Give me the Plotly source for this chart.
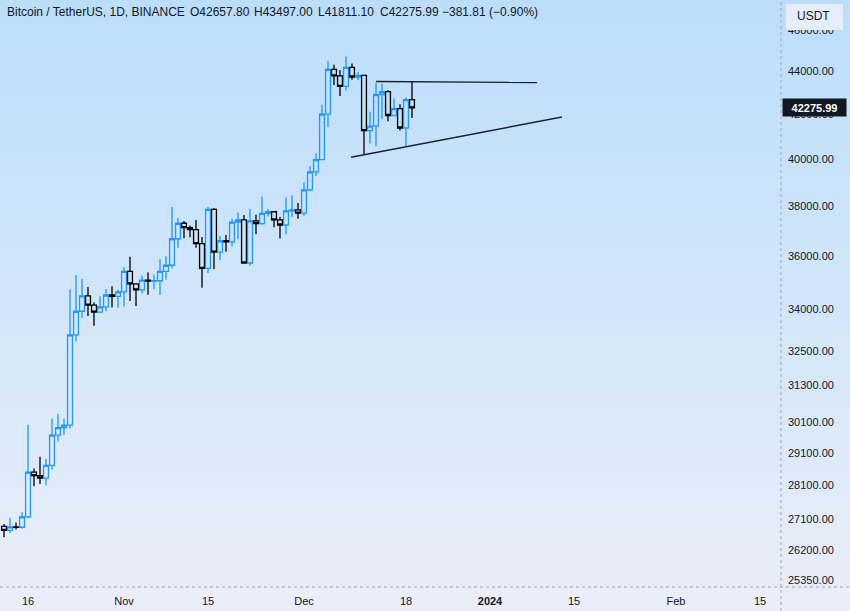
import math, zlib, struct, base64
import pandas as pd
import plotly.graph_objects as go

# ---------------- data ----------------
dates = pd.date_range("2023-10-12", "2023-12-19", freq="D")
opens = [26875, 26759, 26862, 26852, 27154, 28500, 28395, 28320, 28713, 29670, 29909,
         29992, 33070, 33923, 34496, 34152, 33892, 34081, 34526, 34474,
         34639, 35421, 34941, 34720, 35082, 35048, 35062, 35420, 35655, 36693, 37313, 37138,
         37054, 36502, 35537, 37880, 36163, 36613, 36568, 37359, 37448, 35741, 37408, 37294,
         37713, 37780, 37447, 37242, 37818, 37854,
         37723, 38682, 39450, 39972, 41991, 44073, 43762, 43273, 44170, 43713, 43789, 41244,
         41450, 42891, 43023, 41929, 42240, 41365, 42657.80]
highs = [26943, 27130, 26989, 27293, 30000, 28613, 28982, 28916, 30207, 30350, 30200,
         34742, 35280, 35133, 34824, 34245, 34482, 34750, 34854, 34720,
         35582, 35984, 34946, 35255, 35380, 35286, 35892, 36000, 37972, 37526, 37408, 37226,
         37446, 36760, 37980, 37934, 36800, 36845, 37500, 37750, 37652, 37892, 37653, 38414,
         37888, 37814, 37569, 38377, 38450, 38145,
         38999, 39700, 40250, 42420, 44488, 44297, 44047, 44700, 44358, 43950, 43804, 42104,
         43430, 43391, 43088, 42702, 42438, 42757, 43497.00]
lows = [26560, 26685, 26789, 26808, 27112, 28069, 28142, 28100, 28578, 29470, 29675,
        29883, 32832, 33679, 33751, 33391, 33860, 33930, 34062, 34050,
        34097, 34300, 34120, 34582, 34534, 34740, 34525, 35112, 35534, 36333, 36712, 36753,
        36341, 34800, 35360, 35500, 35861, 36178, 36384, 36677, 35735, 35632, 36870, 37251,
        37591, 37150, 36707, 36868, 37570, 37500,
        37615, 38627, 39274, 39972, 41414, 43335, 42821, 43081, 43584, 43563, 40222, 40680,
        40556, 41768, 41666, 41889, 41250, 40530, 41811.10]
closes = [26759, 26862, 26852, 27154, 28500, 28395, 28320, 28713, 29670, 29909, 29992,
          33070, 33923, 34496, 34152, 33892, 34081, 34526, 34474, 34639,
          35421, 34941, 34720, 35082, 35048, 35062, 35420, 35655, 36693, 37313, 37138, 37054,
          36502, 35537, 37880, 36163, 36613, 36568, 37359, 37448, 35741, 37408, 37294, 37713,
          37780, 37447, 37242, 37818, 37854, 37723,
          38682, 39450, 39972, 41991, 44073, 43762, 43273, 44170, 43713, 43789, 41244, 41450,
          42891, 43023, 41929, 42240, 41365, 42657.80, 42275.99]

# drawn trend lines (triangle)
top_line_x = ["2023-12-13 00:00", "2024-01-08 20:00"]
top_line_y = [43500, 43450]
bottom_line_x = ["2023-12-08 20:00", "2024-01-13 00:00"]
bottom_line_y = [40074, 41860]

# axis ticks
y_ticks = [25350, 26200, 27100, 28100, 29100, 30100, 31300, 32500, 34000,
           36000, 38000, 40000, 42000, 44000, 46000]
x_tick_dates = ["2023-10-16", "2023-11-01", "2023-11-15", "2023-12-01", "2023-12-18",
                "2024-01-01", "2024-01-15", "2024-02-01", "2024-02-15"]
x_tick_labels = ["16", "Nov", "15", "Dec", "18", "<b>2024</b>", "15", "Feb", "15"]

header_texts = ["Bitcoin / TetherUS, 1D, BINANCE", "O42657.80", "H43497.00",
                "L41811.10", "C42275.99", "\u2212381.81 (\u22120.90%)"]

# ---------------- layout constants ----------------
W, H = 850, 611
PLOT_R = 781   # px, right edge of plot area
PLOT_B = 587   # px, bottom edge of plot area
header_px = [5, 188, 252, 316, 378, 440]
FONT = "Liberation Sans"
TXT = "#131722"


def gradient_png(h, top, bottom):
    rows = b""
    for i in range(h):
        t = i / (h - 1)
        c = bytes(round(top[k] + (bottom[k] - top[k]) * t) for k in range(3))
        rows += b"\x00" + c
    def chunk(tag, data):
        return (struct.pack(">I", len(data)) + tag + data +
                struct.pack(">I", zlib.crc32(tag + data) & 0xffffffff))
    ihdr = struct.pack(">IIBBBBB", 1, h, 8, 2, 0, 0, 0)
    png = (b"\x89PNG\r\n\x1a\n" + chunk(b"IHDR", ihdr) +
           chunk(b"IDAT", zlib.compress(rows)) + chunk(b"IEND", b""))
    return "data:image/png;base64," + base64.b64encode(png).decode()


bg = gradient_png(H, (187, 222, 251), (234, 238, 248))

fig = go.Figure()
fig.add_trace(go.Candlestick(
    x=dates, open=opens, high=highs, low=lows, close=closes,
    increasing=dict(line=dict(color="#2196F3", width=1.3), fillcolor="rgba(0,0,0,0)"),
    decreasing=dict(line=dict(color="#000000", width=1.3), fillcolor="rgba(0,0,0,0)"),
    whiskerwidth=0, hoverinfo="skip", showlegend=False,
))
for lx, ly in ((top_line_x, top_line_y), (bottom_line_x, bottom_line_y)):
    fig.add_trace(go.Scatter(x=lx, y=ly, mode="lines",
                             line=dict(color="#1e222d", width=1.4),
                             hoverinfo="skip", showlegend=False))

# y range from pixel calibration: 40000 at y=159, 924 px per ln unit
def px_to_log10(py):
    return math.log10(40000) + (159 - py) / (924 * math.log(10))

day_px = 6.0
x0 = pd.Timestamp("2023-10-16") - pd.Timedelta(days=28 / day_px)
x1 = pd.Timestamp("2023-10-16") + pd.Timedelta(days=(PLOT_R - 28) / day_px)

fig.update_layout(
    width=W, height=H,
    margin=dict(l=0, r=W - PLOT_R, t=0, b=H - PLOT_B),
    paper_bgcolor="#e9eef8", plot_bgcolor="rgba(0,0,0,0)",
    font=dict(family=FONT, size=11, color=TXT),
    boxgap=0.1, boxgroupgap=0.1,
    xaxis=dict(type="date", range=[x0, x1], rangeslider=dict(visible=False),
               tickvals=x_tick_dates, ticktext=x_tick_labels, showgrid=False,
               zeroline=False, showline=False, ticks="", fixedrange=True,
               ticklabelstandoff=6,
               tickfont=dict(family=FONT, size=11, color=TXT)),
    yaxis=dict(type="log", side="right", range=[px_to_log10(PLOT_B), px_to_log10(0)],
               tickvals=y_ticks, ticktext=[f"{v:.2f}" for v in y_ticks],
               showgrid=False, zeroline=False, showline=False, ticks="",
               ticklabelstandoff=6,
               tickfont=dict(family=FONT, size=11, color=TXT)),
    images=[dict(source=bg, xref="paper", yref="paper", x=0, y=1,
                 sizex=W / PLOT_R, sizey=H / PLOT_B, xanchor="left", yanchor="top",
                 sizing="stretch", layer="below")],
    showlegend=False,
)

# separators (dotted)
fig.add_shape(type="line", xref="paper", yref="paper", x0=1, x1=1,
              y0=-(H - PLOT_B) / PLOT_B, y1=1, line=dict(color="#9aa6b8", width=1, dash="dot"))
fig.add_shape(type="line", xref="paper", yref="paper", x0=0, x1=W / PLOT_R,
              y0=0, y1=0, line=dict(color="#9aa6b8", width=1, dash="dot"))

# USDT box (covers the upper half of the top tick label, as in TradingView)
fig.add_shape(type="rect", xref="paper", yref="paper",
              x0=786 / PLOT_R, x1=843 / PLOT_R, y0=1 - 30 / PLOT_B, y1=1 - 4 / PLOT_B,
              fillcolor="#e6eefa", line=dict(width=0), layer="above")
fig.add_annotation(xref="paper", yref="paper", x=795 / PLOT_R, y=1 - 16 / PLOT_B,
                   xanchor="left", yanchor="middle", text="USDT", showarrow=False,
                   font=dict(family=FONT, size=12, color=TXT))

# last price label
fig.add_annotation(xref="paper", yref="y", x=1, y=math.log10(closes[-1]), xshift=1,
                   xanchor="left", yanchor="middle", text="<b>42275.99</b>",
                   showarrow=False, width=63, height=17, bgcolor="#131722", borderpad=0,
                   font=dict(family=FONT, size=11, color="#ffffff"))

# header
for t, px in zip(header_texts, header_px):
    fig.add_annotation(xref="paper", yref="paper", x=px / PLOT_R, y=1 - 12 / PLOT_B,
                       xanchor="left", yanchor="middle", text=t, showarrow=False,
                       font=dict(family=FONT, size=12, color=TXT))

fig.write_html("out.html", config={"displayModeBar": False})
